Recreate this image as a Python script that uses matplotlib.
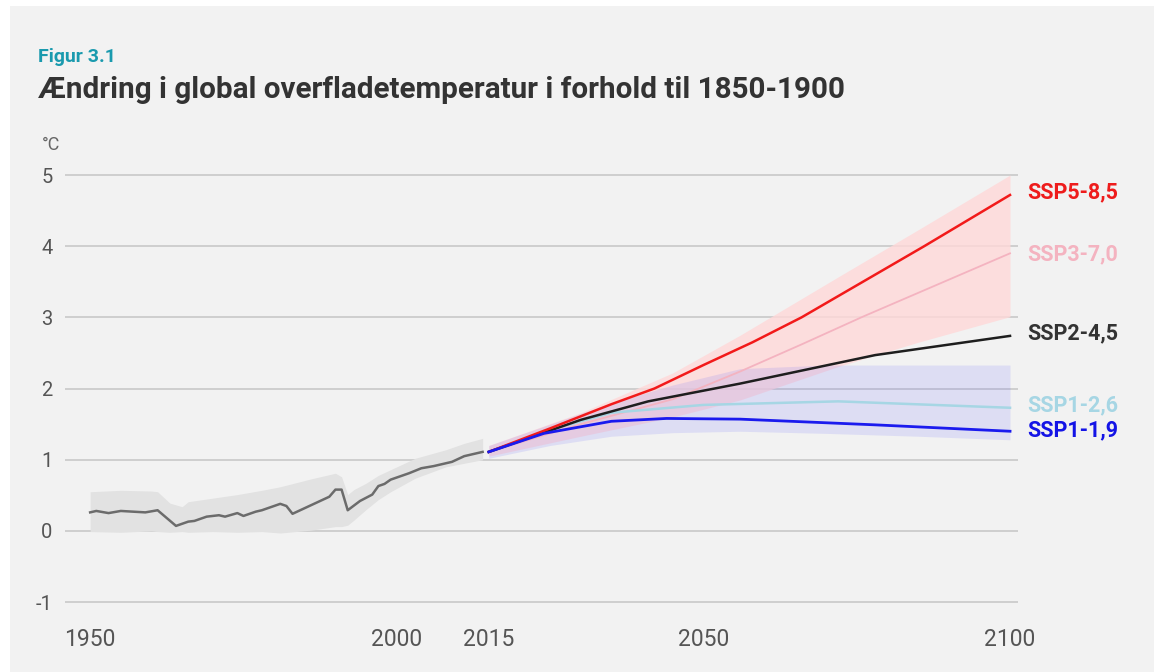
import matplotlib
matplotlib.use("Agg")
import matplotlib.pyplot as plt
from matplotlib.patches import Rectangle

plt.rcParams['font.family'] = ['Roboto', 'DejaVu Sans']

# historical (observed) warming
histYears = [1950, 1951, 1953, 1955, 1959, 1961, 1964, 1966, 1967, 1969, 1971, 1972, 1974, 1975,
             1977, 1978, 1981, 1982, 1983, 1985, 1989, 1990, 1991, 1992, 1994, 1996, 1997, 1998,
             1999, 2002, 2004, 2006, 2008, 2009, 2011, 2013, 2014]
histValues = [0.26, 0.28, 0.25, 0.28, 0.26, 0.29, 0.07, 0.13, 0.14, 0.20, 0.22, 0.20, 0.25, 0.21,
              0.27, 0.29, 0.38, 0.35, 0.24, 0.32, 0.48, 0.58, 0.58, 0.29, 0.42, 0.51, 0.63, 0.66,
              0.72, 0.81, 0.88, 0.91, 0.95, 0.97, 1.05, 1.09, 1.11]

histBandYears = [1950, 1955, 1960, 1961, 1963, 1965, 1966, 1970, 1974, 1978, 1981, 1986, 1990,
                 1991, 1992, 1993, 1995, 1997, 1999, 2003, 2008, 2011, 2014]
histUpper = [0.55, 0.57, 0.56, 0.55, 0.39, 0.34, 0.41, 0.46, 0.51, 0.57, 0.62, 0.73, 0.81,
             0.76, 0.51, 0.58, 0.67, 0.78, 0.86, 1.02, 1.14, 1.23, 1.30]
histLower = [-0.01, -0.02, 0.0, -0.01, -0.02, -0.01, -0.02, -0.01, -0.02, -0.01, -0.03, 0.01, 0.06,
             0.06, 0.08, 0.15, 0.30, 0.44, 0.55, 0.74, 0.90, 0.95, 1.00]

# scenarios
ssp585Years = [2015, 2025, 2035, 2042, 2050, 2058, 2066, 2076, 2086, 2100]
ssp585 = [1.11, 1.44, 1.78, 2.00, 2.33, 2.65, 3.00, 3.50, 4.00, 4.72]

ssp370Years = [2015, 2030, 2045, 2056, 2066, 2076, 2100]
ssp370 = [1.11, 1.50, 1.85, 2.24, 2.62, 3.01, 3.90]

ssp245Years = [2015, 2030, 2041, 2056, 2078, 2100]
ssp245 = [1.11, 1.56, 1.82, 2.07, 2.47, 2.74]

ssp126Years = [2015, 2025, 2035, 2050, 2072, 2100]
ssp126 = [1.11, 1.42, 1.66, 1.77, 1.82, 1.73]

ssp119Years = [2015, 2024, 2035, 2044, 2056, 2078, 2100]
ssp119 = [1.11, 1.37, 1.54, 1.58, 1.57, 1.49, 1.40]

# ranges
redBandYears = [2015, 2030, 2045, 2056, 2072, 2085, 2100]
redUpper = [1.20, 1.66, 2.22, 2.75, 3.57, 4.23, 5.00]
redLower = [1.05, 1.33, 1.60, 1.84, 2.31, 2.65, 3.01]

blueBandYears = [2015, 2025, 2035, 2045, 2056, 2070, 2085, 2100]
blueUpper = [1.20, 1.50, 1.80, 2.05, 2.28, 2.33, 2.33, 2.33]
blueLower = [1.02, 1.20, 1.33, 1.38, 1.40, 1.37, 1.33, 1.28]

labels = ['SSP5-8,5', 'SSP3-7,0', 'SSP2-4,5', 'SSP1-2,6', 'SSP1-1,9']
labelColors = ['#ee1c1c', '#f4b3c0', '#333333', '#a6d6e4', '#1414e6']
labelPos = [4.76, 3.89, 2.78, 1.76, 1.41]

xTicks = [1950, 2000, 2015, 2050, 2100]
yTicks = [-1, 0, 1, 2, 3, 4, 5]

bg = '#f2f2f2'
fig = plt.figure(figsize=(11.54, 6.72), dpi=100)
fig.patch.set_facecolor('white')
fig.patches.append(Rectangle((10 / 1154, 0), 1, 666 / 672, transform=fig.transFigure,
                             facecolor=bg, edgecolor='none', zorder=-10))

ax = fig.add_axes([65 / 1154, 0.0988, (1018 - 65) / 1154, 0.646])
ax.set_facecolor(bg)

ax.fill_between(histBandYears, histLower, histUpper, color='#e2e2e2', lw=0, zorder=1)
ax.plot(histYears, histValues, color='#6b6b6b', lw=1.8, zorder=3)

ax.fill_between(redBandYears, redLower, redUpper, color='#ffd8d8', alpha=0.8, lw=0, zorder=1)
ax.fill_between(blueBandYears, blueLower, blueUpper, color='#6060ff', alpha=0.14, lw=0, zorder=1)

ax.plot(ssp370Years, ssp370, color='#f4b3c0', lw=1.3, zorder=3)
ax.plot(ssp126Years, ssp126, color='#a6d6e4', lw=1.8, zorder=3)
ax.plot(ssp245Years, ssp245, color='#1e1e1e', lw=1.8, zorder=4)
ax.plot(ssp585Years, ssp585, color='#f21a1a', lw=1.8, zorder=4)
ax.plot(ssp119Years, ssp119, color='#1a1aee', lw=2.0, zorder=5)

for name, col, yv in zip(labels, labelColors, labelPos):
    ax.annotate(name, xy=(2100, yv), xytext=(17, 0), textcoords='offset pixels',
                color=col, fontsize=15.5, fontweight='bold', va='center', ha='left',
                annotation_clip=False)

ax.set_xlim(1945.9, 2101.3)
ax.set_ylim(-1.05, 5.05)
ax.set_xticks(xTicks)
ax.set_xticklabels([str(t) for t in xTicks])
ax.set_yticks(yTicks)
ax.set_yticklabels([str(t) for t in yTicks])
ax.tick_params(axis='x', length=0, pad=16, labelsize=16.5, labelcolor='#555555')
ax.tick_params(axis='y', length=0, pad=9, labelsize=14.5, labelcolor='#555555')
ax.grid(axis='y', color='#cfcfcf', lw=1.4)
ax.set_axisbelow(True)
for s in ax.spines.values():
    s.set_visible(False)

fig.text(42 / 1154, 1 - 145 / 672, '°C', fontsize=13, color='#666666', va='center')
fig.text(38 / 1154, 1 - 57 / 672, 'Figur 3.1', fontsize=14, fontweight='bold',
         color='#1a9aae', va='center')
fig.text(38 / 1154, 1 - 90 / 672, 'Ændring i global overfladetemperatur i forhold til 1850-1900',
         fontsize=21.3, fontweight='bold', color='#333333', va='center')

fig.savefig('out.png', dpi=100, facecolor=fig.get_facecolor())
